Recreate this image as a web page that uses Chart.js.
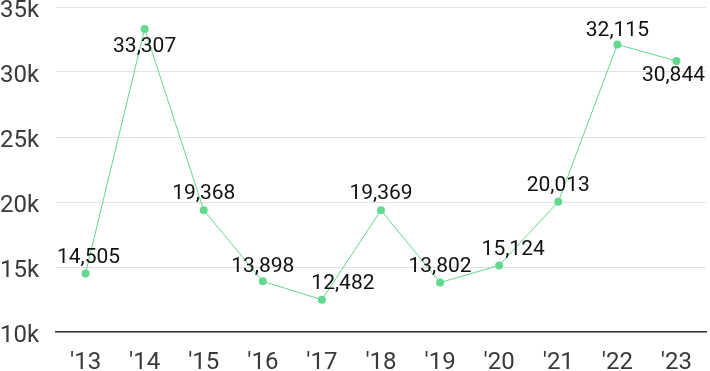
<!DOCTYPE html>
<html>
<head>
<meta charset="utf-8">
<script src="https://cdn.jsdelivr.net/npm/chart.js@4/dist/chart.umd.min.js"></script>
<style>
  html, body { margin: 0; padding: 0; background: #fff; }
  #wrap { width: 710px; height: 371px; }
</style>
</head>
<body>
<div id="wrap"><canvas id="grafico"></canvas></div>
<script>
const anos = ["'13", "'14", "'15", "'16", "'17", "'18", "'19", "'20", "'21", "'22", "'23"];
const valores = [14505, 33307, 19368, 13898, 12482, 19369, 13802, 15124, 20013, 32115, 30844];
const ticksY = [10000, 15000, 20000, 25000, 30000, 35000];

// deslocamento dos rótulos (px) para evitar sobreposição com a linha
const rotuloDx = [3, 0, 0, 0, 21, 0, 0, 14, 0, 0, -3];
const rotuloDy = [-16, 18, -16, -15, -16, -16, -16, -16, -16, -14, 15];

const verde = '#63d98f';

const rotulos = {
  id: 'rotulos',
  afterDatasetsDraw(chart) {
    const ctx = chart.ctx;
    const meta = chart.getDatasetMeta(0);
    ctx.save();
    ctx.font = '21px Roboto';
    ctx.fillStyle = '#111';
    ctx.textAlign = 'center';
    ctx.textBaseline = 'middle';
    meta.data.forEach((p, i) => {
      ctx.fillText(valores[i].toLocaleString('en-US'), p.x + rotuloDx[i], p.y + rotuloDy[i]);
    });
    ctx.restore();
  }
};

new Chart(document.getElementById('grafico'), {
  type: 'line',
  data: {
    labels: anos,
    datasets: [{
      data: valores,
      borderColor: verde,
      backgroundColor: verde,
      borderWidth: 1,
      pointRadius: 4,
      pointBackgroundColor: verde,
      pointBorderWidth: 0,
      tension: 0
    }]
  },
  options: {
    responsive: true,
    maintainAspectRatio: false,
    animation: false,
    layout: { padding: 0 },
    plugins: { legend: { display: false }, tooltip: { enabled: false } },
    scales: {
      x: {
        offset: true,
        grid: { display: false, drawTicks: false },
        border: { display: true, color: '#333', width: 1.5 },
        ticks: { color: '#3a3a3a', font: { family: 'Roboto', size: 24 }, padding: 17, maxRotation: 0 },
        afterFit(scale) { scale.height = 39; }
      },
      y: {
        min: 10000,
        max: 35000,
        afterBuildTicks(scale) { scale.ticks = ticksY.map(v => ({ value: v })); },
        grid: { color: '#e3e3e3', drawTicks: false },
        border: { display: false },
        ticks: {
          color: '#3a3a3a',
          font: { family: 'Roboto', size: 24 },
          crossAlign: 'far',
          padding: 0,
          labelOffset: 4,
          callback: v => (v / 1000) + 'k'
        },
        afterFit(scale) {
          scale.width = 56;
          scale.paddingTop = 7;
          scale.paddingBottom = 0;
        }
      }
    }
  },
  plugins: [rotulos]
});
</script>
</body>
</html>
